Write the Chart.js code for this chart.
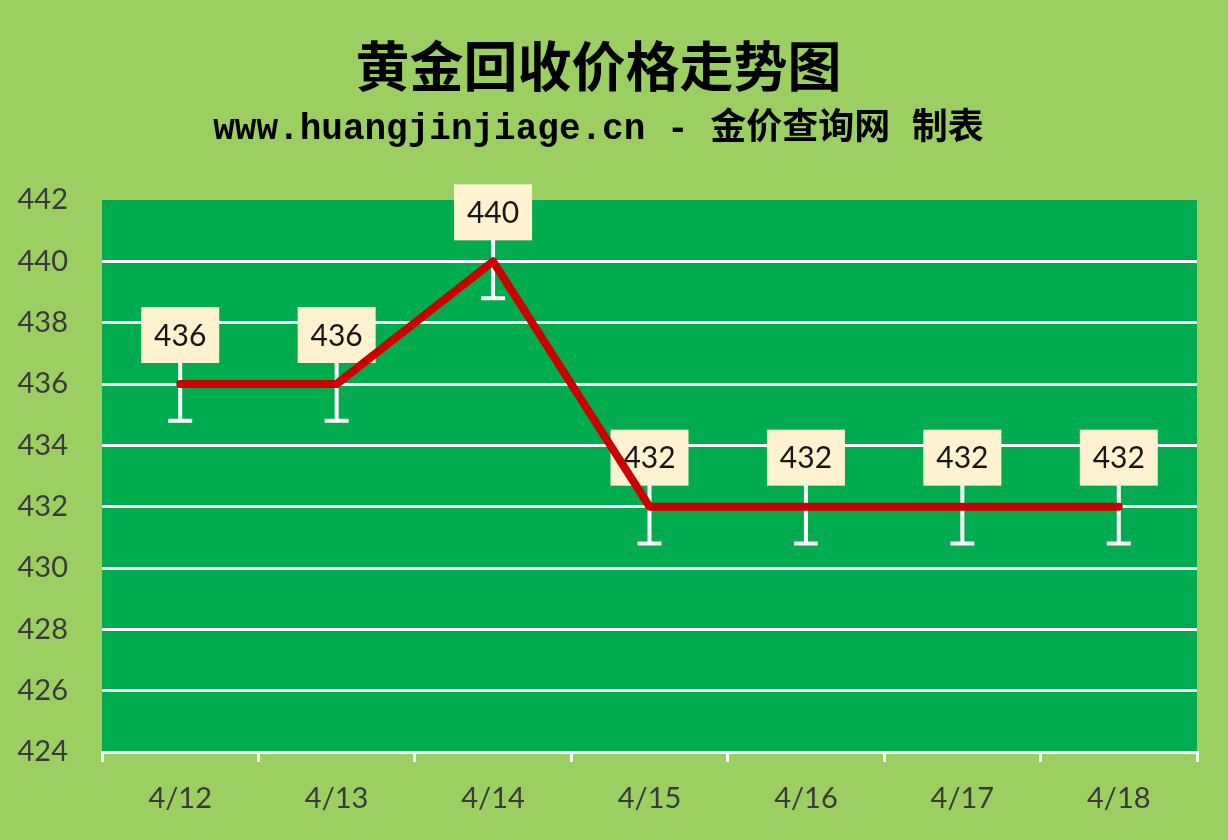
<!DOCTYPE html>
<html>
<head>
<meta charset="utf-8">
<script src="https://cdn.jsdelivr.net/npm/chart.js@4.4.1/dist/chart.umd.min.js"></script>
<style>
  html, body { margin: 0; padding: 0; background: #9ccf61; }
  #box { width: 1228px; height: 840px; }
</style>
</head>
<body>
<div id="box"><canvas id="grafico"></canvas></div>
<script>
const fechas = ["4/12", "4/13", "4/14", "4/15", "4/16", "4/17", "4/18"];
const precios = [436, 436, 440, 432, 432, 432, 432];
const errores = [1.2, 1.2, 1.2, 1.2, 1.2, 1.2, 1.2];
const ticksY = [424, 426, 428, 430, 432, 434, 436, 438, 440, 442];

const fondoVerde = {
  id: "fondoVerde",
  beforeDraw(chart) {
    const { ctx, chartArea: a } = chart;
    ctx.save();
    ctx.fillStyle = "#00ac4e";
    ctx.fillRect(a.left, a.top, a.right - a.left, a.bottom - a.top);
    ctx.restore();
  }
};

// barras de error y etiquetas, debajo de la linea roja
const barrasYEtiquetas = {
  id: "barrasYEtiquetas",
  beforeDatasetsDraw(chart) {
    const { ctx } = chart;
    const x = chart.scales.x, y = chart.scales.y;
    ctx.save();
    ctx.strokeStyle = "#ffffff";
    ctx.lineWidth = 4;
    precios.forEach((v, i) => {
      const px = x.getPixelForValue(i);
      const yA = y.getPixelForValue(v + errores[i]);
      const yB = y.getPixelForValue(v - errores[i]);
      ctx.beginPath();
      ctx.moveTo(px, yA); ctx.lineTo(px, yB);
      ctx.moveTo(px - 12, yB); ctx.lineTo(px + 12, yB);
      ctx.moveTo(px - 12, yA); ctx.lineTo(px + 12, yA);
      ctx.stroke();
    });
    ctx.font = "30px Lato, 'Open Sans', sans-serif";
    ctx.textAlign = "center";
    ctx.textBaseline = "middle";
    precios.forEach((v, i) => {
      const px = x.getPixelForValue(i);
      const py = y.getPixelForValue(v);
      const w = 78, h = 56;
      const abajo = py - 21;
      ctx.fillStyle = "#fff2cf";
      ctx.fillRect(px - w / 2, abajo - h, w, h);
      ctx.fillStyle = "#161616";
      ctx.fillText(String(v), px, abajo - h / 2 + 1);
    });
    ctx.restore();
  }
};

new Chart(document.getElementById("grafico"), {
  type: "line",
  data: {
    labels: fechas,
    datasets: [{
      data: precios,
      borderColor: "#cc0000",
      borderWidth: 8,
      pointRadius: 0,
      tension: 0,
      fill: false,
      borderCapStyle: "round",
      borderJoinStyle: "round"
    }]
  },
  options: {
    responsive: true,
    maintainAspectRatio: false,
    animation: false,
    layout: { padding: { left: 0, right: 31, top: 0, bottom: 0 } },
    plugins: {
      legend: { display: false },
      tooltip: { enabled: false },
      title: {
        display: true,
        text: "黄金回收价格走势图",
        color: "#000000",
        font: { family: "'Noto Sans CJK SC'", size: 54, weight: "bold" },
        padding: { top: 34, bottom: 0 }
      },
      subtitle: {
        display: true,
        text: "www.huangjinjiage.cn - 金价查询网 制表",
        color: "#000000",
        font: { family: "'Liberation Mono', 'Noto Sans CJK SC'", size: 36, weight: "bold" },
        padding: { top: 10, bottom: 48 }
      }
    },
    scales: {
      x: {
        offset: true,
        grid: {
          offset: true,
          drawOnChartArea: false,
          drawTicks: true,
          tickLength: 10,
          color: "#ffffff",
          lineWidth: 3
        },
        border: { display: true, color: "#ffffff", width: 3 },
        ticks: {
          color: "#3a3a3a",
          font: { family: "Lato, 'Open Sans', sans-serif", size: 29 },
          padding: 19
        },
        afterFit(scale) { scale.height = 88; }
      },
      y: {
        min: 424,
        max: 442,
        afterBuildTicks(scale) { scale.ticks = ticksY.map(v => ({ value: v })); },
        grid: {
          drawTicks: false,
          lineWidth: 3,
          color: ctx => (ctx.tick && (ctx.tick.value === 442 || ctx.tick.value === 424)) ? "rgba(0,0,0,0)" : "#ffffff"
        },
        border: { display: false },
        ticks: {
          color: "#3a3a3a",
          font: { family: "Lato, 'Open Sans', sans-serif", size: 29 },
          padding: 34
        },
        afterFit(scale) { scale.width = 102; }
      }
    }
  },
  plugins: [fondoVerde, barrasYEtiquetas]
});
</script>
</body>
</html>
